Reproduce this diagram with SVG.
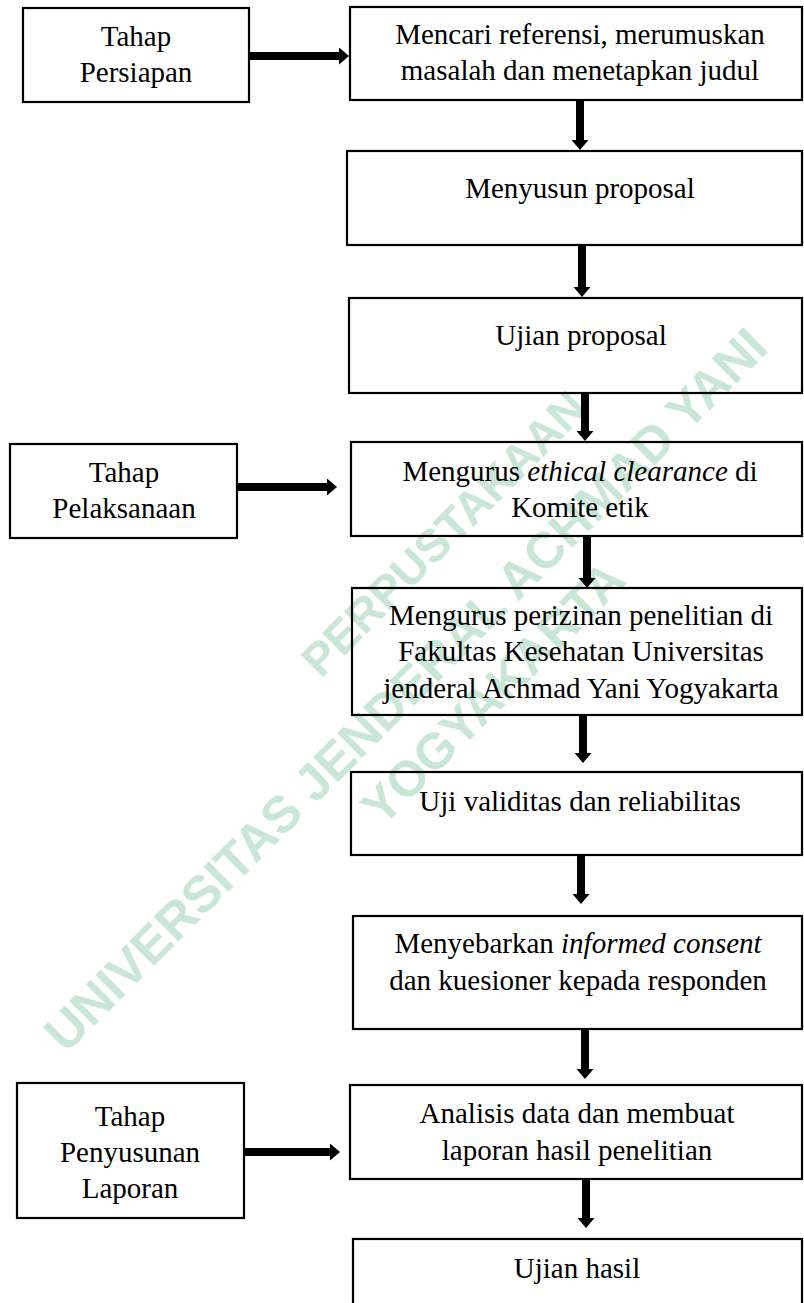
<svg xmlns="http://www.w3.org/2000/svg" width="804" height="1303" viewBox="0 0 804 1303">
<style>
  .box { fill: none; stroke: #000; stroke-width: 2.2; }
  .t { font-family: "Liberation Serif", "Times New Roman", serif; font-size: 29px; fill: #000; text-anchor: middle; }
  .i { font-style: italic; }
  .wm { font-family: "Liberation Sans", Arial, sans-serif; font-weight: bold; font-size: 50px; fill: #c9e6d6; text-anchor: middle; }
  .conn { stroke: #000; stroke-width: 8; fill: none; }
</style>
<defs>
  <marker id="ah" markerUnits="userSpaceOnUse" markerWidth="11" markerHeight="18" refX="0" refY="8.5" orient="auto">
    <path d="M0,0 L10,8.5 L0,17 Z" fill="#000"/>
  </marker>
</defs>
<rect width="804" height="1303" fill="#fff"/>
<g id="watermark">
  <text class="wm" transform="translate(455,545) rotate(-45)" style="font-size:46px">PERPUSTAKAAN</text>
  <text class="wm" transform="translate(418,702) rotate(-45)" style="font-size:51px">UNIVERSITAS JENDERAL ACHMAD YANI</text>
  <text class="wm" transform="translate(505,705) rotate(-45)">YOGYAKARTA</text>
</g>
<g id="connectors">
  <path class="conn" d="M249,56 H339" marker-end="url(#ah)"/>
  <path class="conn" d="M238,487 H327" marker-end="url(#ah)"/>
  <path class="conn" d="M244,1152 H330" marker-end="url(#ah)"/>
  <path class="conn" d="M580,100 V140" marker-end="url(#ah)"/>
  <path class="conn" d="M582,245 V287" marker-end="url(#ah)"/>
  <path class="conn" d="M585,393 V431" marker-end="url(#ah)"/>
  <path class="conn" d="M587,536 V578" marker-end="url(#ah)"/>
  <path class="conn" d="M583,715 V753" marker-end="url(#ah)"/>
  <path class="conn" d="M581,855 V894" marker-end="url(#ah)"/>
  <path class="conn" d="M585,1029 V1069" marker-end="url(#ah)"/>
  <path class="conn" d="M586,1179 V1218" marker-end="url(#ah)"/>
</g>
<g id="n-persiapan">
  <rect class="box" x="23" y="8" width="226" height="94"/>
  <text class="t" x="136" y="46">Tahap</text>
  <text class="t" x="136" y="82">Persiapan</text>
</g>
<g id="n-referensi">
  <rect class="box" x="350" y="7" width="452" height="93"/>
  <text class="t" x="580" y="44">Mencari referensi, merumuskan</text>
  <text class="t" x="580" y="80">masalah dan menetapkan judul</text>
</g>
<g id="n-menyusun">
  <rect class="box" x="347" y="151" width="455" height="94"/>
  <text class="t" x="580" y="198">Menyusun proposal</text>
</g>
<g id="n-ujian-proposal">
  <rect class="box" x="349" y="298" width="453" height="95"/>
  <text class="t" x="581" y="345">Ujian proposal</text>
</g>
<g id="n-pelaksanaan">
  <rect class="box" x="10" y="444" width="227" height="94"/>
  <text class="t" x="124" y="482">Tahap</text>
  <text class="t" x="124" y="518">Pelaksanaan</text>
</g>
<g id="n-ethical">
  <rect class="box" x="351" y="442" width="451" height="94"/>
  <text class="t" x="580" y="481">Mengurus <tspan class="i">ethical clearance</tspan> di</text>
  <text class="t" x="580" y="517">Komite etik</text>
</g>
<g id="n-perizinan">
  <rect class="box" x="352" y="588" width="450" height="127"/>
  <text class="t" x="581" y="625">Mengurus perizinan penelitian di</text>
  <text class="t" x="581" y="661">Fakultas Kesehatan Universitas</text>
  <text class="t" x="581" y="698">jenderal Achmad Yani Yogyakarta</text>
</g>
<g id="n-uji-validitas">
  <rect class="box" x="351" y="772" width="451" height="83"/>
  <text class="t" x="580" y="811">Uji validitas dan reliabilitas</text>
</g>
<g id="n-menyebarkan">
  <rect class="box" x="353" y="916" width="449" height="113"/>
  <text class="t" x="578" y="953">Menyebarkan <tspan class="i">informed consent</tspan></text>
  <text class="t" x="578" y="990">dan kuesioner kepada responden</text>
</g>
<g id="n-penyusunan">
  <rect class="box" x="17" y="1083" width="227" height="135"/>
  <text class="t" x="130" y="1126">Tahap</text>
  <text class="t" x="130" y="1162">Penyusunan</text>
  <text class="t" x="130" y="1198">Laporan</text>
</g>
<g id="n-analisis">
  <rect class="box" x="350" y="1085" width="452" height="94"/>
  <text class="t" x="577" y="1123">Analisis data dan membuat</text>
  <text class="t" x="577" y="1160">laporan hasil penelitian</text>
</g>
<g id="n-ujian-hasil">
  <rect class="box" x="353" y="1239" width="449" height="80"/>
  <text class="t" x="577" y="1278">Ujian hasil</text>
</g>
</svg>
